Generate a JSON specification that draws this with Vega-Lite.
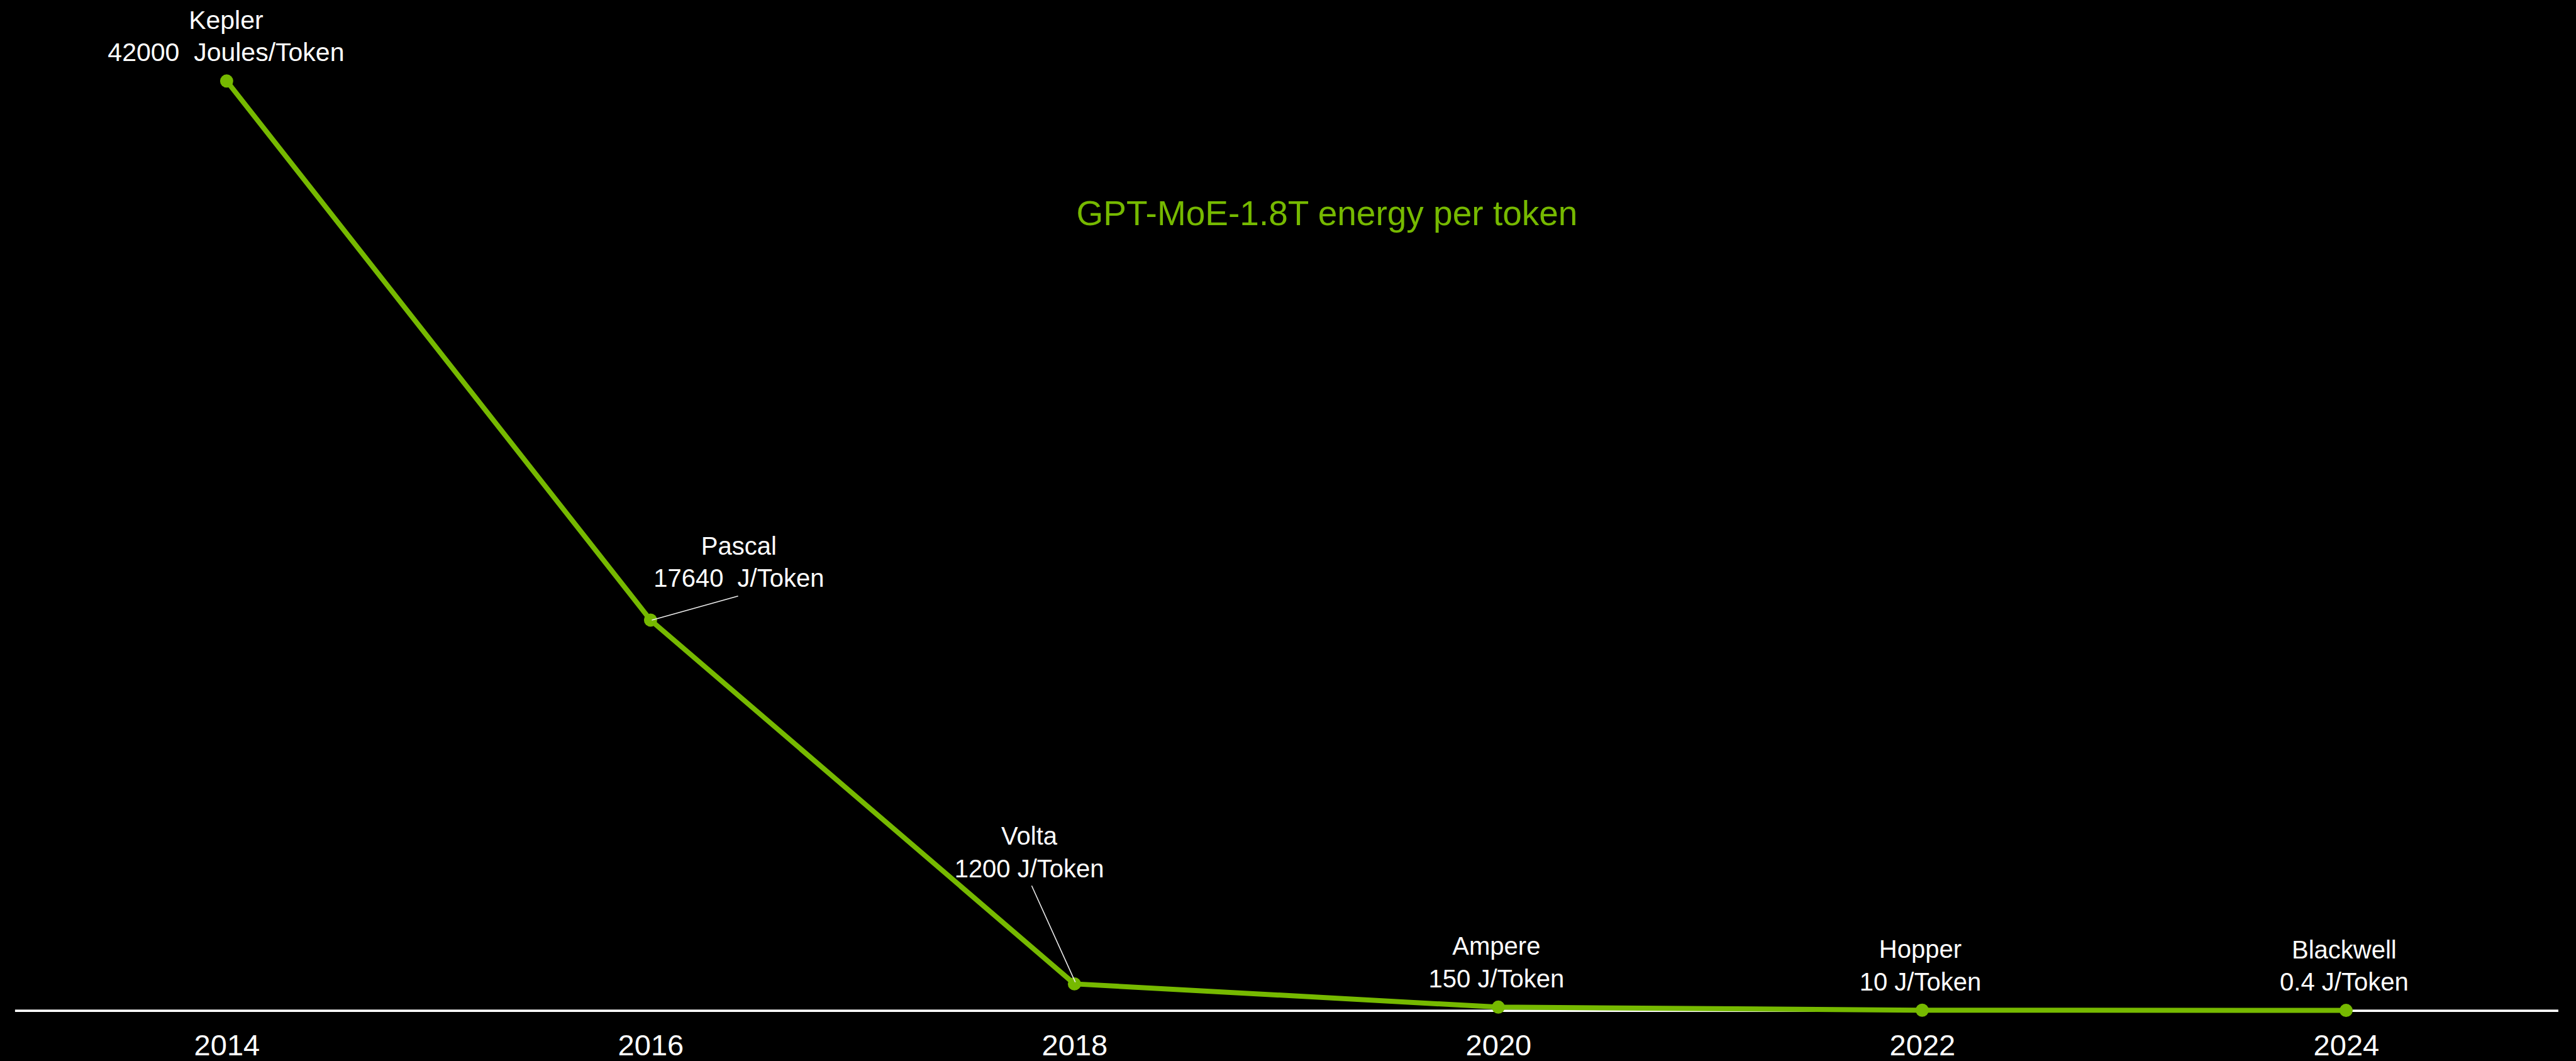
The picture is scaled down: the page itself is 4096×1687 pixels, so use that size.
{
  "$schema": "https://vega.github.io/schema/vega-lite/v6.json",
  "width": 4044,
  "height": 1477.8,
  "autosize": {"type": "none"},
  "padding": {"left": 23.4, "top": 128.8, "right": 28.6, "bottom": 80.4},
  "background": "#000000",
  "config": {"view": {"stroke": null}, "font": "Liberation Sans"},
  "title": {
    "text": "GPT-MoE-1.8T energy per token",
    "color": "#76B900",
    "fontSize": 55,
    "font": "Liberation Sans",
    "fontWeight": "normal",
    "anchor": "middle",
    "frame": "group",
    "baseline": "alphabetic",
    "offset": 0,
    "dx": 64.6,
    "dy": 400
  },
  "data": {
    "values": [
      {"year": 2014, "arch": "Kepler", "energy": 42000, "annotation": "Kepler\n42000\u00a0 Joules/Token"},
      {"year": 2016, "arch": "Pascal", "energy": 17640, "annotation": "Pascal\n17640\u00a0 J/Token"},
      {"year": 2018, "arch": "Volta", "energy": 1200, "annotation": "Volta\n1200 J/Token"},
      {"year": 2020, "arch": "Ampere", "energy": 150, "annotation": "Ampere\n150 J/Token"},
      {"year": 2022, "arch": "Hopper", "energy": 10, "annotation": "Hopper\n10 J/Token"},
      {"year": 2024, "arch": "Blackwell", "energy": 0.4, "annotation": "Blackwell\n0.4 J/Token"}
    ]
  },
  "encoding": {
    "x": {
      "field": "year",
      "type": "quantitative",
      "scale": {"domain": [2013, 2025], "nice": false, "zero": false},
      "axis": {
        "values": [2014, 2016, 2018, 2020, 2022, 2024],
        "format": "d",
        "title": null,
        "grid": false,
        "ticks": false,
        "tickSize": 0,
        "domainColor": "#FFFFFF",
        "domainWidth": 3.6,
        "labelColor": "#FFFFFF",
        "labelFontSize": 47,
        "labelFont": "Liberation Sans",
        "labelPadding": 34,
        "labelFlush": false,
        "labelOverlap": false
      }
    },
    "y": {
      "field": "energy",
      "type": "quantitative",
      "scale": {"domain": [0, 42000], "nice": false, "zero": true},
      "axis": null
    }
  },
  "layer": [
    {"mark": {"type": "line", "color": "#76B900", "strokeWidth": 8, "strokeCap": "round", "strokeJoin": "round"}},
    {"mark": {"type": "circle", "color": "#76B900", "size": 440, "opacity": 1}},
    {
      "transform": [{"filter": {"field": "arch", "equal": "Pascal"}}],
      "mark": {"type": "rule", "color": "#EDEDED", "strokeWidth": 1.6, "xOffset": 2, "x2Offset": 139.2, "y2Offset": -38.1},
      "encoding": {"x2": {"field": "year"}, "y2": {"field": "energy"}}
    },
    {
      "transform": [{"filter": {"field": "arch", "equal": "Volta"}}],
      "mark": {"type": "rule", "color": "#EDEDED", "strokeWidth": 1.6, "xOffset": 1.4, "yOffset": -2.8, "x2Offset": -68, "y2Offset": -156.1},
      "encoding": {"x2": {"field": "year"}, "y2": {"field": "energy"}}
    },
    {
      "transform": [{"filter": {"field": "arch", "equal": "Kepler"}}],
      "mark": {"type": "text", "align": "center", "baseline": "alphabetic", "fontSize": 41, "color": "#FFFFFF", "lineBreak": "\n", "lineHeight": 51.6, "dx": -1, "dy": -82.9},
      "encoding": {"text": {"field": "annotation"}}
    },
    {
      "transform": [{"filter": {"field": "arch", "equal": "Pascal"}}],
      "mark": {"type": "text", "align": "center", "baseline": "alphabetic", "fontSize": 40, "color": "#FFFFFF", "lineBreak": "\n", "lineHeight": 51, "dx": 140.4, "dy": -103.8},
      "encoding": {"text": {"field": "annotation"}}
    },
    {
      "transform": [{"filter": {"field": "arch", "equal": "Volta"}}],
      "mark": {"type": "text", "align": "center", "baseline": "alphabetic", "fontSize": 40, "color": "#FFFFFF", "lineBreak": "\n", "lineHeight": 51.7, "dx": -71.8, "dy": -221.2},
      "encoding": {"text": {"field": "annotation"}}
    },
    {
      "transform": [{"filter": {"field": "arch", "oneOf": ["Ampere", "Hopper", "Blackwell"]}}],
      "mark": {"type": "text", "align": "center", "baseline": "alphabetic", "fontSize": 40, "color": "#FFFFFF", "lineBreak": "\n", "lineHeight": 51.7, "dx": -3, "dy": -83},
      "encoding": {"text": {"field": "annotation"}}
    }
  ]
}
